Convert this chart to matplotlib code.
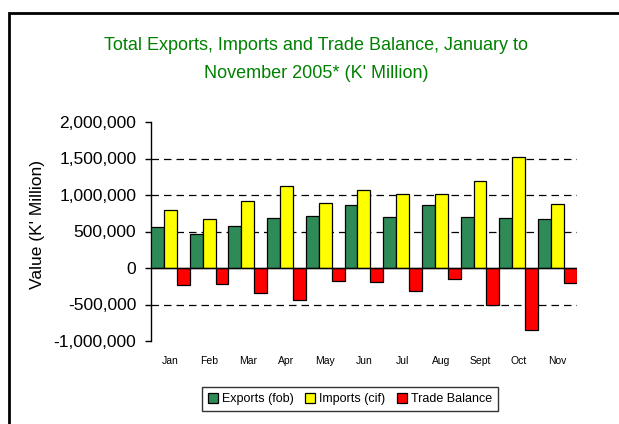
import matplotlib
matplotlib.use("Agg")
import matplotlib.pyplot as plt
import numpy as np
from matplotlib.patches import Rectangle

months = ["Jan", "Feb", "Mar", "Apr", "May", "Jun", "Jul", "Aug", "Sept", "Oct", "Nov"]
exports = [567000, 467000, 581000, 681000, 717000, 862000, 703000, 863000, 699000, 681000, 672000]
imports = [790000, 677000, 913000, 1117000, 886000, 1071000, 1008000, 1008000, 1189000, 1526000, 872000]
balance = [-232000, -218000, -341000, -436000, -177000, -196000, -313000, -146000, -500000, -845000, -204000]

series_names = ["Exports (fob)", "Imports (cif)", "Trade Balance"]
colors = ["#2e8b57", "#ffff00", "#ff0000"]
yticks = [-1000000, -500000, 0, 500000, 1000000, 1500000, 2000000]

plt.rcParams["font.family"] = ["Liberation Sans", "DejaVu Sans"]

fig = plt.figure(figsize=(6.19, 4.24), dpi=100)
ax = fig.add_axes([151 / 619, 1 - 341 / 424, (576.7 - 151) / 619, (341 - 122) / 424])

x = np.arange(len(months))
w = 1 / 3
for i, (vals, name, col) in enumerate(zip([exports, imports, balance], series_names, colors)):
    ax.bar(x + (i - 1) * w, vals, width=w, color=col, edgecolor="black",
           linewidth=0.9, label=name, zorder=3)

ax.set_xlim(-0.5, len(months) - 0.5)
ax.set_ylim(-1000000, 2000000)
ax.set_yticks(yticks)
ax.set_yticklabels([f"{v:,}" for v in yticks], fontsize=12.5)
ax.set_xticks(x)
ax.set_xticklabels(months, fontsize=7.5)
ax.tick_params(axis="x", length=0, pad=10.5)
ax.tick_params(axis="y", length=4, width=1, pad=6.5, direction="out")

for s in ["top", "right", "bottom"]:
    ax.spines[s].set_visible(False)
ax.spines["left"].set_linewidth(1)

# dashed grid, skip the top/bottom/zero lines
ax.grid(axis="y", color="black", linestyle=(0, (6, 4)), linewidth=0.9, zorder=1)
for v, gl in zip(ax.get_yticks(), ax.get_ygridlines()):
    if v in (yticks[0], 0, yticks[-1]):
        gl.set_visible(False)
ax.axhline(0, color="black", linewidth=1, zorder=4)

ax.set_ylabel("Value (K' Million)", fontsize=12.5)
ax.yaxis.set_label_coords(-0.248, 0.53)

fig.text(316 / 619, 1 - 46 / 424, "Total Exports, Imports and Trade Balance, January to",
         ha="center", va="center", fontsize=13, color="#008000")
fig.text(316 / 619, 1 - 73 / 424, "November 2005* (K' Million)",
         ha="center", va="center", fontsize=13, color="#008000")

leg = fig.legend(loc="center", bbox_to_anchor=(350 / 619, 1 - 399 / 424), ncol=3,
                 prop={"size": 9}, frameon=True, fancybox=False,
                 edgecolor="black", handlelength=0.8, handleheight=0.8,
                 handletextpad=0.35, columnspacing=0.9, borderpad=0.45)
leg.get_frame().set_linewidth(1)

# outer chart border
fig.patches.append(Rectangle((8.5 / 619, -0.1), 1.2, 1 - 13 / 424 + 0.1,
                             transform=fig.transFigure, fill=False,
                             edgecolor="black", linewidth=2))

fig.savefig("out.png", dpi=100)
